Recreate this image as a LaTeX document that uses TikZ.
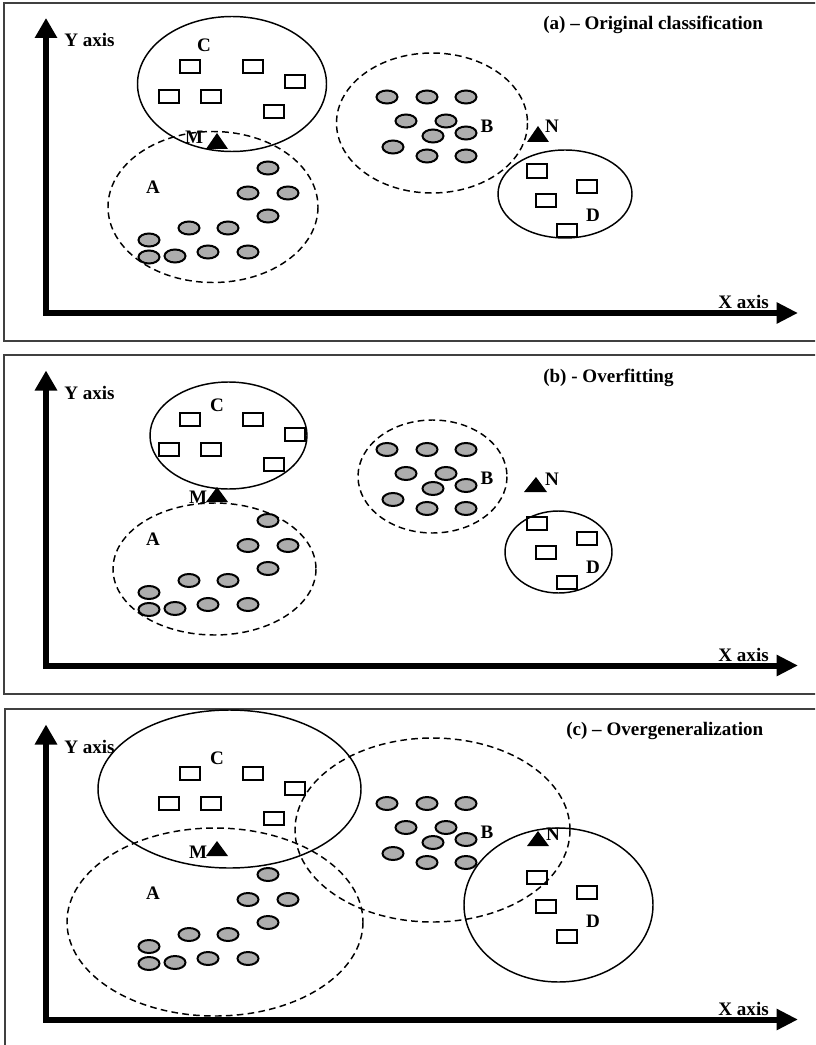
\documentclass[tikz,border=0pt]{standalone}
\usepackage{fontspec}
\setmainfont{Liberation Serif}
\usetikzlibrary{arrows.meta}
\tikzset{
  frame/.style={draw=black!75, line width=0.8pt},
  axisline/.style={line width=4.5pt, line join=miter,
    {Triangle[length=15pt,width=16pt]}-{Triangle[length=16pt,width=15pt]}},
  solidring/.style={draw=black, line width=1.1pt},
  dashring/.style={draw=black, line width=1.1pt, dash pattern=on 5pt off 3.2pt},
  dotpt/.style={draw=black, line width=1.5pt, fill=black!32},
  rectpt/.style={draw=black, line width=1.5pt},
  tri/.style={fill=black},
  lbl/.style={font=\bfseries\fontsize{14.3}{16}\selectfont, inner sep=0pt},
}
\newcommand\ptsA{268/168,248/193,288/193,268/216,189/228,228/228,149/240,149/257,175/256,208/252,248/252}
\newcommand\ptsB{387/97,427/97,466/97,406/121,446/121,466/133,433/136,393/147,427/156,466/156}
\newcommand\ptsC{190/67,253/67,295/82,169/97,211/97,274/112}
\newcommand\ptsD{537/171,587/186,546/200,567/230}
\newcommand\commonpanel[2]{%
  \begin{scope}[shift={(0,#1)}]
    \foreach \px/\py in \ptsA {\draw[dotpt] (\px,\py) ellipse [x radius=10.5, y radius=6.5];}
    \foreach \px/\py in \ptsB {\draw[dotpt] (\px,\py) ellipse [x radius=10.5, y radius=6.5];}
    \foreach \px/\py in \ptsC {\draw[rectpt] (\px-10,\py-6.5) rectangle (\px+10,\py+6.5);}
    \foreach \px/\py in \ptsD {\draw[rectpt] (\px-10,\py-6.5) rectangle (\px+10,\py+6.5);}
    \coordinate (ytip#2) at (46,18);
    \coordinate (corner#2) at (46,313);
    \coordinate (xtip#2) at (798,313);
    \draw[axisline] (ytip#2) -- (corner#2) -- (xtip#2);
    \node[lbl, anchor=west] (ylab#2) at (64,40) {Y axis};
    \node[lbl, anchor=east] (xlab#2) at (769,302) {X axis};
  \end{scope}}
\begin{document}
\begin{tikzpicture}[x=0.75pt,y=-0.75pt]
\useasboundingbox (0,0) rectangle (815,1045);
\clip (0,0) rectangle (815,1045);
% frames
\draw[frame] (4,3) rectangle (840,341);
\draw[frame] (4,355) rectangle (840,694);
\draw[frame] (5,709) rectangle (840,1070);

% ---------- panel (a)
\draw[solidring] (232,84) ellipse [x radius=94.5, y radius=67.5];
\draw[dashring] (213,207) ellipse [x radius=105, y radius=75.5];
\draw[dashring] (432,123) ellipse [x radius=95.5, y radius=70];
\draw[solidring] (565,194) ellipse [x radius=67, y radius=44];
\commonpanel{0}{a}
\fill[tri] (217,133) -- (228,149) -- (206,149) -- cycle;
\fill[tri] (538,126) -- (549,142) -- (527,142) -- cycle;
\node[lbl, anchor=base west] (ta) at (543,30) {(a) -- Original classification};
\node[lbl] (aC) at (204,45) {C};
\node[lbl] (aA) at (153,187) {A};
\node[lbl] (aM) at (194,137) {M};
\node[lbl] (aB) at (487,126) {B};
\node[lbl] (aN) at (552,126) {N};
\node[lbl] (aD) at (593,215) {D};

% ---------- panel (b)
\draw[solidring] (228.5,435.5) ellipse [x radius=78.5, y radius=53.5];
\draw[dashring] (214.5,569) ellipse [x radius=101.5, y radius=66];
\draw[dashring] (432.5,476.5) ellipse [x radius=74.5, y radius=56.5];
\draw[solidring] (558.5,552) ellipse [x radius=53.5, y radius=41];
\commonpanel{352.5}{b}
\fill[tri] (217,487) -- (228,502) -- (206,502) -- cycle;
\fill[tri] (536,477) -- (547,492) -- (524,492) -- cycle;
\node[lbl, anchor=base west] (tb) at (543,382) {(b) - Overfitting};
\node[lbl] (bC) at (217,405) {C};
\node[lbl] (bA) at (153,539) {A};
\node[lbl] (bM) at (198,497) {M};
\node[lbl] (bB) at (487,478) {B};
\node[lbl] (bN) at (552,479) {N};
\node[lbl] (bD) at (593,567) {D};

% ---------- panel (c)
\draw[solidring] (229.5,789) ellipse [x radius=131.5, y radius=79];
\draw[dashring] (215,922) ellipse [x radius=148, y radius=94];
\draw[dashring] (432.5,830) ellipse [x radius=137.5, y radius=92];
\draw[solidring] (558.5,905) ellipse [x radius=94.5, y radius=77];
\commonpanel{706.5}{c}
\fill[tri] (217,841) -- (228,856) -- (206,856) -- cycle;
\fill[tri] (538,831) -- (549,846) -- (527,846) -- cycle;
\node[lbl, anchor=base west] (tc) at (566,735) {(c) -- Overgeneralization};
\node[lbl] (cC) at (217,758) {C};
\node[lbl] (cA) at (153,893) {A};
\node[lbl] (cM) at (198,852) {M};
\node[lbl] (cB) at (487,832) {B};
\node[lbl] (cN) at (553,834) {N};
\node[lbl] (cD) at (593,921) {D};
\end{tikzpicture}
\end{document}
